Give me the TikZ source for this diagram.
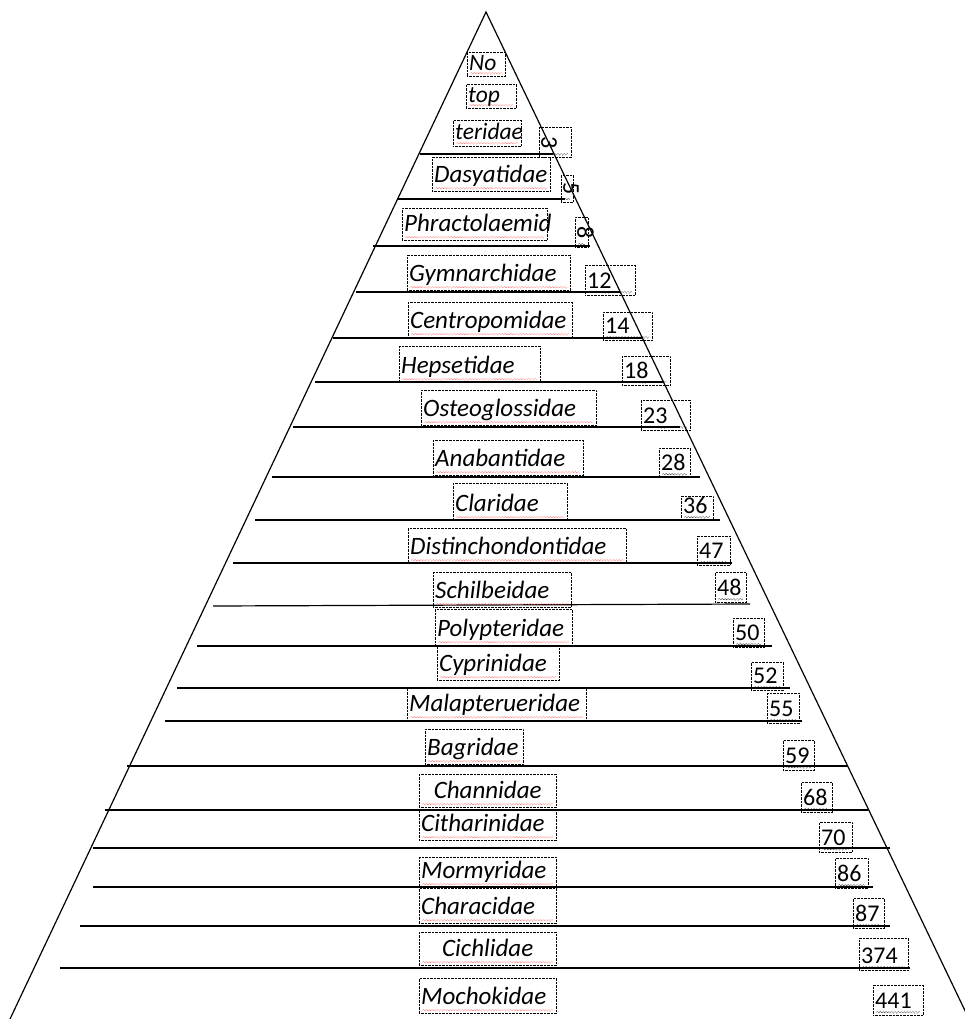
\documentclass[tikz,border=0pt]{standalone}
\usepackage{fontspec}
\usepackage{graphicx}
\setmainfont{Carlito}
\usetikzlibrary{decorations.pathmorphing}

\newcommand{\famfont}{\fontsize{25}{30}\selectfont\itshape}
\newcommand{\smallfam}{\fontsize{23.5}{28}\selectfont\itshape}
\newcommand{\cntfont}{\fontsize{24}{28}\selectfont}
\newcommand{\turn}[1]{\rotatebox{-90}{#1}}

\tikzset{
  spell/.style={path picture={\draw[#1, line width=0.6pt, decorate,
      decoration={snake, amplitude=0.8pt, segment length=3pt}]
      ([xshift=3pt, yshift=3pt]path picture bounding box.south west) --
      ([xshift=-3pt, yshift=3pt]path picture bounding box.south east);}},
  fam/.style={draw, densely dotted, font=\famfont, anchor=north west,
    inner sep=2pt, align=left, text depth=7pt, spell=red!70},
  cnt/.style={draw, densely dotted, font=\cntfont, anchor=north west,
    inner sep=2pt, align=left, spell=black},
  num/.style={cnt, text depth=5pt},
  level/.style={line width=1.2pt}
}

\begin{document}
\begin{tikzpicture}[x=1pt, y=-1pt]
            \useasboundingbox (0,0) rectangle (964,1019);

            % pyramid
            \draw[line width=1.2pt] (10,1019) -- (486,12) -- (969,1019);

            % levels
            \begin{scope}[level]
                \draw (420,154) -- (553,154);
                \draw (397,199) -- (565,199);
                \draw (373,246) -- (590,246);
                \draw (356,292) -- (620,292);
                \draw (333,338) -- (643,338);
                \draw (315,382) -- (663,382);
                \draw (293,427) -- (680,427);
                \draw (272,477) -- (700,477);
                \draw (255,520) -- (720,520);
                \draw (233,563) -- (732,563);
                \draw (213,606) -- (750,604);
                \draw (197,646) -- (772,646);
                \draw (177,688) -- (790,688);
                \draw (165,721) -- (802,721);
                \draw (127,766) -- (848,766);
                \draw (105,810) -- (868,810);
                \draw (93,848) -- (890,848);
                \draw (93,887) -- (873,887);
                \draw (80,926) -- (890,926);
                \draw (60,968) -- (910,968);
            \end{scope}

            % families
            \begin{scope}[every node/.style={fam}]
                \node[font=\smallfam, text width=34pt, text height=16pt, text depth=4pt] (no) at (467,52) {No};
                \node[font=\smallfam, text width=46pt, text height=16pt, text depth=4pt] (top) at (466,84) {top};
                \node[font=\smallfam, text width=64pt, text height=17pt, text depth=5pt] (teridae) at (453,120) {teridae};
                \node[text width=114pt, text height=23pt] (dasyatidae) at (432,157) {Dasyatidae};
                \node[text width=141pt, text height=21pt] (phractolaemid) at (402,208) {Phractolaemid};
                \node[text width=159pt, text height=24pt] (gymnarchidae) at (407,255) {Gymnarchidae};
                \node[text width=160pt, text height=24pt] (centropomidae) at (408,302) {Centropomidae};
                \node[text width=137pt, text height=25pt] (hepsetidae) at (399,346) {Hepsetidae};
                \node[text width=171pt, text height=24pt] (osteoglossidae) at (421,390) {Osteoglossidae};
                \node[text width=146pt, text height=24pt] (anabantidae) at (433,440) {Anabantidae};
                \node[text width=110pt, text height=26pt] (claridae) at (453,483) {Claridae};
                \node[text width=214pt, text height=24pt] (distinchondontidae) at (408,528) {Distinchondontidae};
                \node[text width=134pt, text height=24pt] (schilbeidae) at (433,572) {Schilbeidae};
                \node[text width=133pt, text height=25pt] (polypteridae) at (435,609) {Polypteridae};
                \node[text width=118pt, text height=23pt] (cyprinidae) at (437,646) {Cyprinidae};
                \node[text width=175pt, text height=21pt] (malapterueridae) at (407,688) {Malapterueridae};
                \node[text width=94pt, text height=24pt] (bagridae) at (425,729) {Bagridae};
                \node[text width=133pt, text height=22pt, align=center] (channidae) at (419,774) {Channidae};
                \node[text width=133pt, text height=20pt] (citharinidae) at (419,809) {Citharinidae};
                \node[text width=133pt, text height=19pt] (mormyridae) at (419,857) {Mormyridae};
                \node[text width=133pt, text height=24pt] (characidae) at (419,888) {Characidae};
                \node[text width=133pt, text height=22pt, align=center] (cichlidae) at (419,932) {Cichlidae};
                \node[text width=133pt, text height=24pt] (mochokidae) at (419,978) {Mochokidae};
            \end{scope}

            % counts
            \node[cnt, text width=28pt, minimum height=30] (n3) at (539,127) {\turn{3}};
            \node[cnt, text width=8pt, minimum height=27] (n5) at (561,175) {\turn{5}};
            \node[cnt, text width=9pt, minimum height=30] (n8) at (575,217) {\turn{8}};
            \begin{scope}[every node/.style={num}]
                \node[text width=46pt, text height=21pt] (n12) at (585,265) {12};
                \node[text width=45pt, text height=19pt] (n14) at (603,312) {14};
                \node[text width=44pt, text height=20pt] (n18) at (622,356) {18};
                \node[text width=45pt, text height=21pt] (n23) at (641,400) {23};
                \node[text width=27pt, text height=20pt] (n28) at (659,448) {28};
                \node[text width=28pt, text height=15pt] (n36) at (681,496) {36};
                \node[text width=29pt, text height=20pt] (n47) at (697,536) {47};
                \node[text width=27pt, text height=21pt] (n48) at (715,572) {48};
                \node[text width=27pt, text height=20pt] (n50) at (733,618) {50};
                \node[text width=28pt, text height=19pt] (n52) at (751,662) {52};
                \node[text width=28pt, text height=21pt] (n55) at (767,693) {55};
                \node[text width=27pt, text height=21pt] (n59) at (783,740) {59};
                \node[text width=27pt, text height=21pt] (n68) at (801,782) {68};
                \node[text width=29pt, text height=21pt] (n70) at (819,822) {70};
                \node[text width=29pt, text height=21pt] (n86) at (835,858) {86};
                \node[text width=27pt, text height=21pt] (n87) at (853,898) {87};
                \node[text width=45pt, text height=23pt] (n374) at (859,938) {374};
                \node[text width=46pt, text height=21pt] (n441) at (873,985) {441};
            \end{scope}
            \end{tikzpicture}
\end{document}
